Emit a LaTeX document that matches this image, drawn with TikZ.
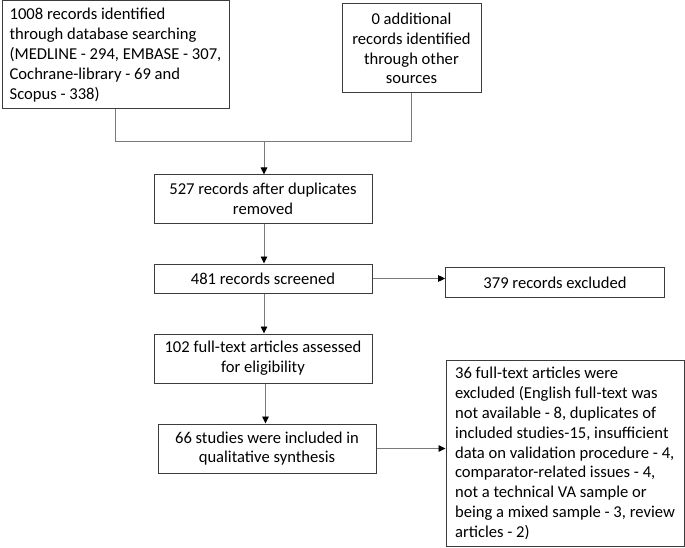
\documentclass[tikz,border=0pt]{standalone}
\usepackage{fontspec}
\setmainfont{Carlito}
\usetikzlibrary{positioning,arrows.meta}
\definecolor{boxgray}{HTML}{3C3C3C}
\definecolor{linkgray}{HTML}{7A7A7A}

\begin{document}
\begin{tikzpicture}[x=1pt, y=-1pt, >={Triangle[length=7pt, width=6.5pt, color=black]},
    box/.style={draw=boxgray, line width=1pt, inner sep=0pt,
        align=center, font=\fontsize{16.6}{19.8}\selectfont},
    link/.style={draw=linkgray, line width=0.9pt}]

        \useasboundingbox (0,0) rectangle (685,548);

        % identification
        \node[box, align=left, minimum width=227pt, minimum height=108pt]
            (database) at (115.5,55)
            {1008 records identified\\ through database searching\\
             (MEDLINE - 294, EMBASE - 307,\\ Cochrane-library - 69 and\\ Scopus - 338)};
        \node[box, minimum width=139pt, minimum height=89pt] (other) at (411.5,48.5)
            {0 additional\\ records identified\\ through other\\ sources};

        % screening
        \node[box, minimum width=218pt, minimum height=48pt] (dedup) at (263,199)
            {527 records after duplicates\\ removed};
        \node[box, minimum width=218pt, minimum height=29pt] (screened) at (263,278.5)
            {481 records screened};
        \node[box, minimum width=218.6pt, minimum height=29.6pt] (excluded) at (555,282.5)
            {379 records excluded};

        % eligibility and inclusion
        \node[box, minimum width=218pt, minimum height=49pt] (fulltext) at (263,358.5)
            {102 full-text articles assessed\\ for eligibility};
        \node[box, minimum width=218pt, minimum height=49pt] (included) at (267,448.5)
            {66 studies were included in\\ qualitative synthesis};
        \node[box, align=left, minimum width=238pt, minimum height=186pt]
            (reasons) at (565,453.5)
            {36 full-text articles were\\ excluded (English full-text was\\
             not available - 8, duplicates of\\ included studies-15, insufficient\\
             data on validation procedure - 4,\\ comparator-related issues - 4,\\
             not a technical VA sample or\\ being a mixed sample - 3, review\\
             articles - 2)};

        % connectors
        \coordinate (merge) at (264,141);
        \draw[link] (database.south) |- (merge);
        \draw[link] (other.south) |- (merge);
        \draw[link, ->] (merge) -- (merge |- dedup.north);
        \draw[link, ->] (dedup.south -| merge) -- (merge |- screened.north);
        \draw[link, ->] (screened.east) -- (screened.east -| excluded.west);
        \draw[link, ->] (screened.south -| merge) -- (merge |- fulltext.north);
        \draw[link, ->] ([xshift=1.5pt]fulltext.south -| merge) -- ([xshift=1.5pt]merge |- included.north);
        \draw[link, ->] (included.east) -- (included.east -| reasons.west);

    \end{tikzpicture}
\end{document}
